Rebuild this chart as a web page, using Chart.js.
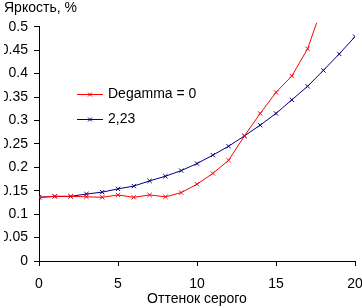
<!DOCTYPE html>
<html>
<head>
<meta charset="utf-8">
<script src="https://cdn.jsdelivr.net/npm/chart.js@4"></script>
<style>
  html, body { margin: 0; padding: 0; background: #fff; }
  #wrap { width: 362px; height: 308px; }
</style>
</head>
<body>
<div id="wrap"><canvas id="myChart"></canvas></div>
<script>
// данные с графика
const shades = [0, 1, 2, 3, 4, 5, 6, 7, 8, 9, 10, 11, 12, 13, 14, 15, 16, 17, 18, 19, 20];
const degamma0 = [0.136, 0.138, 0.138, 0.137, 0.136, 0.141, 0.136, 0.141, 0.137, 0.146, 0.164, 0.187, 0.215, 0.267, 0.315, 0.36, 0.395, 0.453, 0.55];
const gamma223 = [0.136, 0.138, 0.138, 0.143, 0.147, 0.154, 0.16, 0.171, 0.181, 0.193, 0.208, 0.226, 0.245, 0.267, 0.29, 0.315, 0.344, 0.373, 0.407, 0.442, 0.479];
const seriesNames = ["Degamma = 0", "2,23"];
const yTitle = "Яркость, %";
const xTitle = "Оттенок серого";

const FONT = "'Liberation Sans', Arial, sans-serif";

const toPoints = (arr) => arr.map((v, i) => ({ x: shades[i], y: v }));

// легенда внутри графика
const innerLegend = {
  id: "innerLegend",
  afterDraw(chart) {
    const ctx = chart.ctx;
    ctx.save();
    chart.data.datasets.forEach((ds, i) => {
      const y = 94.5 + i * 25;
      ctx.strokeStyle = ds.borderColor;
      ctx.lineWidth = 1;
      ctx.beginPath();
      ctx.moveTo(77, y);
      ctx.lineTo(103, y);
      ctx.stroke();
      ctx.beginPath();
      ctx.moveTo(88, y - 2);
      ctx.lineTo(92, y + 2);
      ctx.moveTo(88, y + 2);
      ctx.lineTo(92, y - 2);
      ctx.stroke();
      ctx.fillStyle = "#000";
      ctx.font = "14px " + FONT;
      ctx.textBaseline = "middle";
      ctx.textAlign = "left";
      ctx.fillText(ds.label, 108, y);
    });
    ctx.restore();
  },
};

const ctx = document.getElementById("myChart").getContext("2d");
new Chart(ctx, {
  type: "line",
  data: {
    datasets: [
      {
        label: seriesNames[0],
        data: toPoints(degamma0),
        borderColor: "#ff0000",
        backgroundColor: "#ff0000",
        borderWidth: 1,
        pointStyle: "crossRot",
        pointRadius: 3,
        pointBorderWidth: 1,
        tension: 0,
        clip: { left: 0, top: 4, right: 0, bottom: 0 },
      },
      {
        label: seriesNames[1],
        data: toPoints(gamma223),
        borderColor: "#000080",
        backgroundColor: "#000080",
        borderWidth: 1,
        pointStyle: "crossRot",
        pointRadius: 3,
        pointBorderWidth: 1,
        tension: 0,
      },
    ],
  },
  options: {
    responsive: true,
    maintainAspectRatio: false,
    animation: false,
    events: [],
    layout: { padding: { left: 4, right: 7, top: 0, bottom: 0 } },
    plugins: {
      legend: { display: false },
      tooltip: { enabled: false },
      title: {
        display: true,
        text: yTitle,
        align: "start",
        color: "#000",
        font: { family: FONT, size: 14, weight: "normal" },
        padding: { top: 0, bottom: 10 },
      },
    },
    scales: {
      x: {
        type: "linear",
        min: 0,
        max: 20,
        ticks: {
          stepSize: 5,
          color: "#000",
          padding: 10,
          maxRotation: 0,
          font: { family: FONT, size: 14 },
        },
        grid: {
          drawOnChartArea: false,
          tickLength: 5,
          tickColor: "#000",
        },
        border: { color: "#000", width: 1 },
        title: {
          display: true,
          text: xTitle,
          color: "#000",
          font: { family: FONT, size: 14 },
          padding: { top: 0, bottom: 0 },
        },
        afterFit(scale) {
          scale.height = 47;
          scale.paddingRight = 0;
          scale.paddingLeft = 0;
        },
      },
      y: {
        min: 0,
        max: 0.5,
        ticks: {
          stepSize: 0.05,
          color: "#000",
          padding: 6,
          font: { family: FONT, size: 14 },
          callback: (value) => String(parseFloat(value.toFixed(2))),
        },
        grid: {
          drawOnChartArea: false,
          tickLength: 5,
          tickColor: "#000",
        },
        border: { color: "#000", width: 1 },
        afterFit(scale) {
          scale.width = 35;
        },
      },
    },
  },
  plugins: [innerLegend],
});
</script>
</body>
</html>
